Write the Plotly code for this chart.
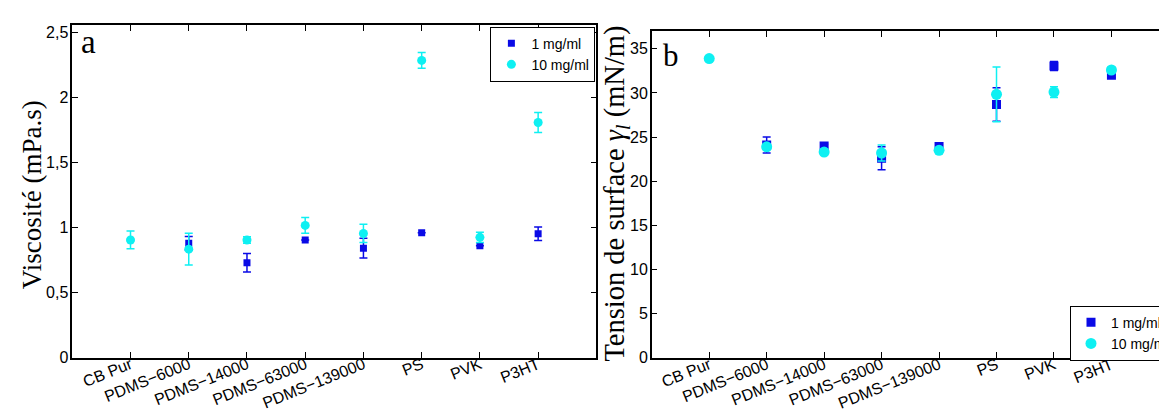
import plotly.graph_objects as go

W, H = 1167, 414

categories = ["CB Pur", "PDMS−6000", "PDMS−14000", "PDMS−63000", "PDMS−139000", "PS", "PVK", "P3HT"]

# Panel a: viscosity (mPa.s)
visc_1 = [None, 0.88, 0.73, 0.905, 0.843, 0.961, 0.861, 0.954]
visc_1_err = [None, 0.053, 0.071, 0.0, 0.076, 0.0, 0.0, 0.052]
visc_10 = [0.906, 0.835, 0.906, 1.018, 0.956, 2.288, 0.926, 1.81]
visc_10_err = [0.068, 0.122, 0.025, 0.06, 0.07, 0.06, 0.04, 0.077]
visc_ticks = [0, 0.5, 1, 1.5, 2, 2.5]
visc_ticktext = ["0", "0,5", "1", "1,5", "2", "2,5"]

# Panel b: surface tension (mN/m)
tens_1 = [None, 24.1, 24.0, 22.6, 23.95, 28.7, 33.05, 32.0]
tens_1_err = [None, 0.9, 0.2, 1.3, 0.2, 1.9, 0.5, 0.25]
tens_10 = [33.9, 23.9, 23.3, 23.2, 23.5, 29.85, 30.1, 32.6]
tens_10_err = [0.2, 0.3, 0.3, 0.9, 0.2, 3.1, 0.6, 0.3]
tens_ticks = [0, 5, 10, 15, 20, 25, 30, 35]

series_names = ["1 mg/ml", "10 mg/ml"]
BLUE = "#0a0ae6"
CYAN = "#0ef0f2"

def px_x(p):
    return p / W

def px_y(p):
    return (H - p) / H

fig = go.Figure()

# panel a traces
fig.add_trace(go.Scatter(
    x=categories, y=visc_1, mode="markers", name=series_names[0],
    marker=dict(symbol="square", size=7, color=BLUE),
    error_y=dict(type="data", array=visc_1_err, color=BLUE, thickness=1.5, width=4),
    xaxis="x", yaxis="y", legend="legend"))
fig.add_trace(go.Scatter(
    x=categories, y=visc_10, mode="markers", name=series_names[1],
    marker=dict(symbol="circle", size=9, color=CYAN),
    error_y=dict(type="data", array=visc_10_err, color=CYAN, thickness=1.5, width=4),
    xaxis="x", yaxis="y", legend="legend"))

# panel b traces
fig.add_trace(go.Scatter(
    x=categories, y=tens_1, mode="markers", name=series_names[0],
    marker=dict(symbol="square", size=9, color=BLUE),
    error_y=dict(type="data", array=tens_1_err, color=BLUE, thickness=1.5, width=4),
    xaxis="x2", yaxis="y2", legend="legend2"))
fig.add_trace(go.Scatter(
    x=categories, y=tens_10, mode="markers", name=series_names[1],
    marker=dict(symbol="circle", size=11, color=CYAN),
    error_y=dict(type="data", array=tens_10_err, color=CYAN, thickness=1.5, width=4),
    xaxis="x2", yaxis="y2", legend="legend2"))

sans = "Liberation Sans, Arial, sans-serif"
common_x = dict(type="category", categoryorder="array", categoryarray=categories,
                showline=True, linecolor="black", linewidth=1.5,
                ticks="inside", ticklen=6, tickwidth=1.3, tickcolor="black",
                tickangle=-22, tickfont=dict(family=sans, size=16, color="black"),
                showgrid=False, zeroline=False, ticklabelstandoff=-10)
common_y = dict(showline=True, linecolor="black", linewidth=1.5,
                ticks="inside", ticklen=6, tickwidth=1.3, tickcolor="black",
                tickfont=dict(family=sans, size=16, color="black"),
                showgrid=False, zeroline=False, ticklabelstandoff=-1)
legend_font = dict(family=sans, size=14, color="black")

fig.update_layout(
    width=W, height=H,
    margin=dict(l=0, r=0, t=0, b=0),
    paper_bgcolor="white", plot_bgcolor="white",
    xaxis=dict(common_x, domain=[px_x(65), px_x(595)], range=[-1, 8], anchor="y", mirror="ticks"),
    yaxis=dict(common_y, domain=[px_y(357.3), px_y(16.7)], range=[0, 2.558], anchor="x",
               tickvals=visc_ticks, ticktext=visc_ticktext, mirror="ticks"),
    xaxis2=dict(common_x, domain=[px_x(651), 1.0], range=[-1, 7.88], anchor="y2", mirror="ticks"),
    yaxis2=dict(common_y, domain=[px_y(357.5), px_y(22.7)], range=[0, 37], anchor="x2",
                tickvals=tens_ticks, mirror=False),
    legend=dict(x=px_x(594), y=px_y(18), xanchor="right", yanchor="top",
                bgcolor="white", bordercolor="black", borderwidth=1,
                font=legend_font, tracegroupgap=0, itemwidth=30),
    legend2=dict(x=px_x(1074), y=px_y(304), xanchor="left", yanchor="top",
                 bgcolor="white", bordercolor="black", borderwidth=1,
                 font=legend_font, tracegroupgap=0, itemwidth=30),
    showlegend=True,
)

serif = "Liberation Serif, Times New Roman, serif"
fig.add_annotation(text="a", xref="paper", yref="paper", x=px_x(72), y=px_y(34),
                   xanchor="left", yanchor="middle", showarrow=False,
                   font=dict(family=serif, size=33, color="black"))
fig.add_annotation(text="b", xref="paper", yref="paper", x=px_x(660), y=px_y(47.5),
                   xanchor="left", yanchor="middle", showarrow=False,
                   font=dict(family=serif, size=31, color="black"))
fig.add_annotation(text="Viscosité (mPa.s)", xref="paper", yref="paper",
                   x=px_x(25), y=px_y(190), xanchor="center", yanchor="middle",
                   textangle=-90, showarrow=False,
                   font=dict(family=serif, size=27, color="black"))
fig.add_annotation(text="Tension de surface <i>γ</i><sub><i>l</i></sub> (mN/m)", xref="paper", yref="paper",
                   x=px_x(615), y=px_y(189), xanchor="center", yanchor="middle",
                   textangle=-90, showarrow=False,
                   font=dict(family=serif, size=28.5, color="black"))

fig.write_html("out.html")
